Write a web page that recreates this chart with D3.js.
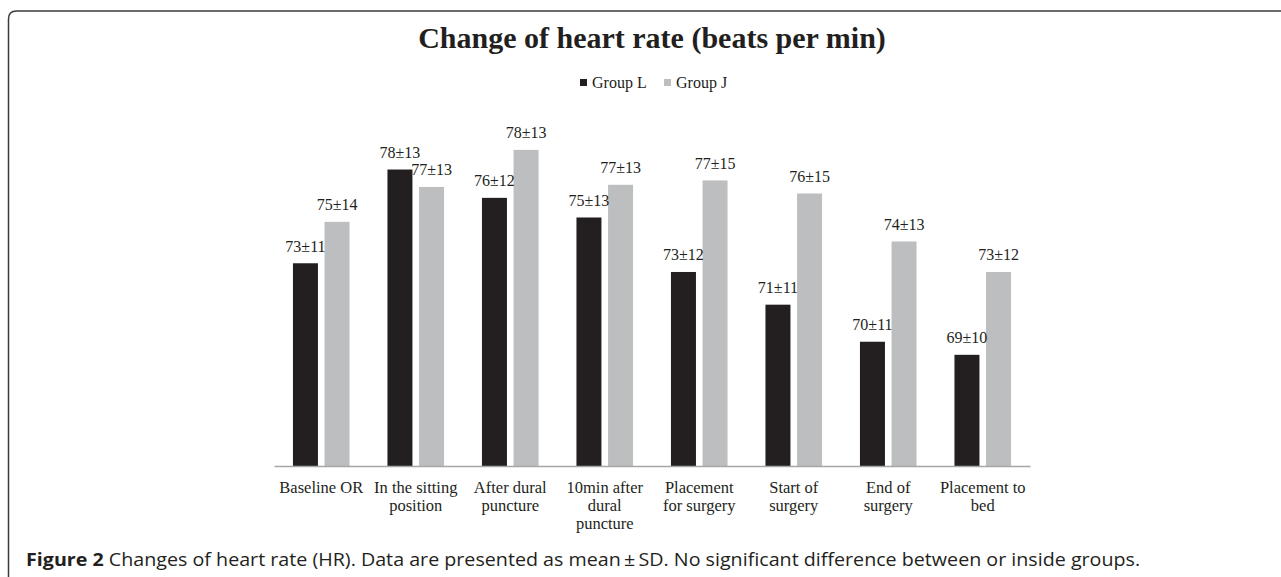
<!DOCTYPE html>
<html>
<head>
<meta charset="utf-8">
<script src="https://cdn.jsdelivr.net/npm/d3@7"></script>
<style>
  body { margin: 0; background: #fff; }
  svg { display: block; }
</style>
</head>
<body>
<div id="chart"></div>
<script>
// categories on the x axis (\n = line break as in the original)
const categories = [
  "Baseline OR",
  "In the sitting\nposition",
  "After dural\npuncture",
  "10min after\ndural\npuncture",
  "Placement\nfor surgery",
  "Start of\nsurgery",
  "End of\nsurgery",
  "Placement to\nbed"
];
const groups = ["Group L", "Group J"];

// bar heights (unrounded means)
const groupL = [73.3, 77.6, 76.3, 75.4, 72.9, 71.4, 69.7, 69.1];
const groupJ = [75.2, 76.8, 78.5, 76.9, 77.1, 76.5, 74.3, 72.9];

// labels printed above the bars
const labelsL = ["73±11", "78±13", "76±12", "75±13", "73±12", "71±11", "70±11", "69±10"];
const labelsJ = ["75±14", "77±13", "78±13", "77±13", "77±15", "76±15", "74±13", "73±12"];

const colors = ["#231f20", "#bcbec0"];

const width = 1281;
const height = 577;
const left = 274, right = 1030;
const baseY = 466;

const svg = d3.select("#chart").append("svg")
  .attr("width", width)
  .attr("height", height);

// frame of the figure
svg.append("path")
  .attr("d", "M8.5," + (height + 2) + " L8.5,19 Q8.5,11 16.5,11 L" + (width + 2) + ",11")
  .attr("fill", "none")
  .attr("stroke", "#3a3a3a")
  .attr("stroke-width", 1.5);

// title
svg.append("text")
  .attr("x", 652)
  .attr("y", 48)
  .attr("text-anchor", "middle")
  .style("font-family", "'Liberation Serif', 'Times New Roman', serif")
  .style("font-weight", "bold")
  .style("font-size", "30px")
  .style("fill", "#231f20")
  .text("Change of heart rate (beats per min)");

// legend
const legendX = [580, 664];
const legend = svg.append("g").attr("id", "legend");
groups.forEach((g, i) => {
  legend.append("rect")
    .attr("x", legendX[i])
    .attr("y", 79)
    .attr("width", 7)
    .attr("height", 7)
    .style("fill", colors[i]);
  legend.append("text")
    .attr("x", legendX[i] + 12)
    .attr("y", 88)
    .style("font-family", "'Liberation Serif', 'Times New Roman', serif")
    .style("font-size", "16px")
    .style("fill", "#231f20")
    .text(g);
});

// scales
const x0 = d3.scaleBand()
  .domain(categories)
  .range([left, right])
  .paddingInner(0)
  .paddingOuter(0);

const x1 = d3.scaleBand()
  .domain(groups)
  .range([0, x0.bandwidth()])
  .paddingInner(0.209)
  .paddingOuter(0.6);

const y = d3.scaleLinear()
  .domain([64, 80])
  .range([baseY, baseY - 16 * 21.8]);

const rows = categories.map((c, i) => ({
  cat: c,
  vals: [
    { g: groups[0], v: groupL[i], lab: labelsL[i] },
    { g: groups[1], v: groupJ[i], lab: labelsJ[i] }
  ]
}));

const cat = svg.selectAll(".cat")
  .data(rows)
  .enter()
  .append("g")
  .attr("class", "cat")
  .attr("transform", (d) => "translate(" + x0(d.cat) + ",0)");

cat.selectAll("rect")
  .data((d) => d.vals)
  .enter()
  .append("rect")
  .attr("x", (d) => x1(d.g))
  .attr("y", (d) => y(d.v))
  .attr("width", x1.bandwidth())
  .attr("height", (d) => baseY - y(d.v))
  .style("fill", (d, i) => colors[i]);

cat.selectAll(".val")
  .data((d) => d.vals)
  .enter()
  .append("text")
  .attr("class", "val")
  .attr("x", (d) => x1(d.g) + x1.bandwidth() / 2)
  .attr("y", (d) => y(d.v) - 11.5)
  .attr("text-anchor", "middle")
  .style("font-family", "'Liberation Serif', 'Times New Roman', serif")
  .style("font-size", "16px")
  .style("fill", "#231f20")
  .text((d) => d.lab);

// x axis: only the base line and the category labels
const xAxis = d3.axisBottom(x0).tickSize(0).tickPadding(0);
const axisG = svg.append("g")
  .attr("id", "x-axis")
  .attr("transform", "translate(0," + baseY + ")")
  .call(xAxis);

axisG.select(".domain")
  .attr("stroke", "#a6a6a6")
  .attr("stroke-width", 1.5);

axisG.selectAll(".tick text").each(function (d) {
  const t = d3.select(this);
  const lines = d.split("\n");
  t.text(null)
    .attr("y", 27)
    .attr("dy", null)
    .style("font-family", "'Liberation Serif', 'Times New Roman', serif")
    .style("font-size", "16.5px")
    .style("fill", "#231f20");
  lines.forEach((line, i) => {
    t.append("tspan")
      .attr("x", 0)
      .attr("dy", i === 0 ? 0 : 18)
      .text(line);
  });
});

// caption below the chart
const caption = svg.append("text")
  .attr("x", 0)
  .attr("y", 0)
  .style("font-family", "'Open Sans', 'Noto Sans', sans-serif")
  .style("font-size", "17.5px")
  .style("fill", "#231f20");
caption.append("tspan")
  .style("font-weight", "bold")
  .text("Figure 2");
caption.append("tspan")
  .text(" Changes of heart rate (HR). Data are presented as mean\u2009\u00b1\u2009SD. No significant difference between or inside groups.");

// condense the caption to the width it has in the figure
const capLen = caption.node().getComputedTextLength();
caption.attr("transform", "translate(26,566) scale(" + (1115 / capLen) + ",1)");
</script>
</body>
</html>
